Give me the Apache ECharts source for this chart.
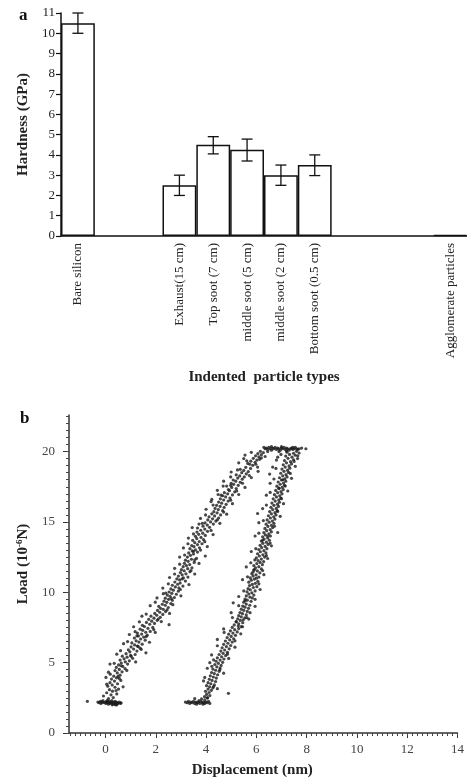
<!DOCTYPE html>
<html>
<head>
<meta charset="utf-8">
<script src="https://cdn.jsdelivr.net/npm/echarts@6/dist/echarts.min.js"></script>
<style>
html,body{margin:0;padding:0;background:#fff;}
#chart{width:467px;height:781px;}
</style>
</head>
<body>
<div id="chart"></div>
<script>
// ---------- Panel a data ----------
const categories = ['Bare silicon', ' ', '  ', 'Exhaust(15 cm)', 'Top soot (7 cm)', 'middle soot (5 cm)', 'middle soot (2 cm)', 'Bottom soot (0.5 cm)', '   ', '    ', '     ', 'Agglomerate particles'];
const hardness = [10.5, null, null, 2.5, 4.5, 4.25, 3.0, 3.5, null, null, null, 0.06];
const errLow  = [10.0, null, null, 2.0, 4.05, 3.7, 2.5, 2.98, null, null, null, null];
const errHigh = [11.0, null, null, 3.0, 4.9, 4.78, 3.5, 4.0, null, null, null, null];

// ---------- Panel b data ----------
const dispTicks = [0, 2, 4, 6, 8, 10, 12, 14];
const loadTicks = [0, 5, 10, 15, 20];

const loadBase = [[-0.72,2.25],[-0.3,2.2],[-0.25,2.15],[-0.2,2.25],[-0.18,2.1],[-0.15,2.2],[-0.12,2.2],[-0.1,2.3],[-0.05,2.15],[0,2.2],[0.02,2.1],[0.05,2.25],[0.07,2.3],[0.08,2.15],[0.1,2.2],[0.12,2.05],[0.15,2.25],[0.18,2.1],[0.2,2.2],[0.22,2.15],[0.25,2.3],[0.27,2.0],[0.28,2.1],[0.3,2.2],[0.33,2.05],[0.35,2.15],[0.38,2.25],[0.4,2.1],[0.4,2.0],[0.43,2.2],[0.45,2.0],[0.48,2.15],[0.5,2.1],[0.55,2.2],[0.6,2.1],[0.62,2.15]];

const loadBranch = [
[0.12,2.45],[0.31,2.52],[-0.08,2.63],[0.22,2.71],[0.45,2.78],[0.05,2.86],[0.28,2.97],[0.16,3.08],[0.52,3.12],[0.38,3.25],[0.09,3.33],[0.27,3.41],[0.48,3.5],[0.18,3.58],[0.36,3.69],[0.61,3.74],[0.24,3.83],[0.44,3.92],[0.33,4.04],[0.58,4.11],[0.19,4.18],[0.47,4.27],[0.66,4.35],[0.38,4.44],[0.55,4.52],[0.78,4.57],[0.43,4.66],[0.69,4.73],[0.52,4.84],[0.88,4.9],[0.63,4.97],[0.79,5.06],[0.95,5.13],[0.58,5.18],[0.74,5.27],[1.08,5.31],[0.86,5.39],[0.67,5.46],[1.0,5.52],[1.18,5.58],[0.82,5.64],[1.61,5.7],[0.97,5.77],[1.25,5.82],[0.91,5.91],[1.12,5.97],[1.38,6.03],[1.02,6.12],[1.27,6.18],[1.16,6.26],[1.46,6.31],[1.05,6.4],[1.33,6.46],[1.22,6.55],[1.58,6.6],[1.4,6.68],[1.15,6.75],[1.52,6.82],[1.31,6.9],[1.66,6.95],[1.44,7.03],[1.27,7.1],[1.6,7.16],[1.78,7.22],[1.48,7.3],[1.38,7.38],[1.69,7.44],[1.88,7.5],[1.55,7.57],[2.53,7.7],[1.47,7.65],[1.76,7.73],[1.95,7.79],[1.63,7.86],[1.84,7.95],[2.06,8.01],[1.72,8.08],[1.93,8.16],[2.18,8.22],[1.81,8.3],[2.04,8.37],[2.28,8.43],[1.96,8.5],[2.16,8.58],[2.39,8.63],[2.07,8.71],[2.3,8.79],[2.19,8.86],[2.5,8.92],[2.12,9.0],[2.38,9.08],[2.26,9.15],[2.6,9.2],[2.44,9.29],[2.33,9.37],[2.66,9.43],[2.51,9.5],[2.38,9.58],[2.74,9.63],[2.57,9.71],[2.46,9.8],[2.82,9.86],[2.64,9.93],[2.53,10.02],[2.9,10.08],[2.7,10.15],[2.6,10.24],[2.92,10.31],[2.78,10.38],[3.08,10.44],[2.66,10.5],[2.87,10.57],[2.97,10.66],[2.76,10.73],[3.18,10.8],[2.95,10.88],[2.84,10.95],[3.1,11.02],[3.28,11.08],[2.9,11.15],[3.05,11.24],[3.2,11.31],[2.98,11.4],[3.36,11.46],[3.13,11.53],[3.02,11.61],[3.27,11.68],[3.44,11.74],[3.09,11.82],[3.22,11.9],[3.35,11.97],[3.14,12.06],[3.53,12.12],[3.29,12.2],[3.18,12.28],[3.42,12.35],[3.62,12.41],[3.26,12.5],[3.97,12.58],[3.38,12.63],[3.5,12.72],[3.31,12.8],[3.66,12.86],[3.45,12.94],[3.58,13.02],[3.36,13.1],[3.74,13.16],[3.52,13.24],[3.43,13.32],[3.66,13.39],[3.84,13.45],[3.55,13.53],[3.73,13.61],[3.47,13.69],[3.9,13.75],[3.63,13.82],[3.8,13.9],[3.58,13.98],[3.97,14.04],[3.71,14.12],[3.87,14.2],[3.64,14.28],[4.06,14.33],[3.79,14.41],[3.95,14.49],[3.66,14.57],[4.14,14.62],[3.88,14.7],[4.05,14.78],[4.29,14.85],[3.96,14.93],[4.18,15.0],[4.39,15.06],[4.07,15.14],[4.26,15.22],[4.5,15.28],[4.12,15.36],[4.34,15.43],[4.58,15.5],[4.23,15.58],[4.44,15.65],[4.31,15.73],[4.66,15.8],[4.49,15.88],[4.36,15.96],[4.72,16.03],[4.56,16.1],[4.42,16.18],[4.8,16.25],[4.62,16.33],[4.5,16.41],[4.88,16.48],[4.23,16.6],[4.7,16.56],[4.57,16.64],[4.95,16.7],[4.78,16.78],[4.66,16.86],[5.05,16.92],[4.86,17.0],[4.73,17.08],[5.14,17.14],[4.93,17.22],[4.89,17.3],[5.2,17.37],[5.02,17.45],[4.82,17.55],[5.28,17.6],[5.1,17.67],[5.0,17.75],[5.36,17.82],[5.18,17.9],[5.08,17.98],[5.44,18.04],[5.26,18.12],[5.52,18.2],[5.34,18.27],[5.2,18.35],[5.6,18.42],[5.42,18.5],[6.07,18.6],[5.68,18.58],[5.5,18.66],[5.36,18.74],[5.77,18.8],[5.58,18.88],[5.74,19.1],[5.86,19.02],[5.66,19.16],[5.95,19.24],[5.78,19.32],[6.13,19.45],[6.02,19.4],[5.88,19.52],[6.1,19.62],[5.97,19.7],[6.2,19.78],[6.06,19.86],[6.28,19.93],[6.16,20.02]
];

const loadSpread = [[0.7,3.28],[0.02,3.95],[0.85,4.45],[0.18,4.9],[1.2,5.05],[0.45,5.6],[1.42,5.95],[0.72,6.35],[1.75,6.45],[0.95,7.0],[1.98,7.15],[1.12,7.55],[2.22,7.92],[1.45,8.3],[2.55,8.5],[1.78,9.05],[2.68,9.12],[2.05,9.6],[3.0,9.75],[2.28,10.3],[3.32,10.55],[2.55,11.05],[3.55,11.3],[2.75,11.7],[3.72,12.05],[2.95,12.5],[3.1,13.15],[4.05,13.25],[3.3,13.85],[4.28,14.1],[3.45,14.6],[4.55,14.9],[3.78,15.25],[4.82,15.55],[4.0,15.9],[5.05,16.3],[4.2,16.45],[5.3,16.95],[4.45,17.25],[5.55,17.45],[4.7,17.9],[5.8,18.15],[5.0,18.55],[6.05,18.9],[5.3,19.2],[6.35,19.65],[5.55,19.75],[3.5,12.9],[2.4,9.95],[1.25,6.9],[4.98,17.6],[5.62,19.35],[0.5,4.02],[3.85,14.9],[4.6,16.9]];

const loadFill = [[0.42,3.02],[0.05,3.47],[0.55,3.88],[0.12,4.32],[0.62,4.78],[0.35,4.95],[1.02,5.45],[0.6,5.85],[1.3,6.15],[0.88,6.5],[1.62,6.85],[1.18,7.2],[1.92,7.35],[1.35,7.9],[2.1,8.1],[1.62,8.45],[2.45,8.75],[1.98,9.3],[2.62,9.55],[2.3,9.9],[2.98,10.2],[2.5,10.6],[3.05,10.95],[2.75,11.3],[3.4,11.55],[2.95,12.0],[3.55,12.3],[3.15,12.65],[3.78,13.0],[3.28,13.45],[3.95,13.6],[3.5,14.15],[4.2,14.4],[3.72,14.85],[4.45,15.15],[3.98,15.5],[4.7,15.7],[4.28,16.2],[4.98,16.55],[4.48,16.95],[5.22,17.2],[4.68,17.55],[5.45,17.75],[4.98,18.2],[5.72,18.3],[5.25,18.7],[5.98,19.1],[5.5,19.5],[6.2,19.55],[5.8,19.95]];

const topCluster = [[6.3,20.3],[6.35,20.2],[6.4,20.25],[6.45,20.15],[6.5,20.3],[6.55,20.2],[6.6,20.1],[6.65,20.25],[6.7,20.2],[6.75,20.3],[6.8,20.15],[6.85,20.25],[6.9,20.2],[6.95,20.1],[7.0,20.25],[7.05,20.2],[7.1,20.3],[7.15,20.15],[7.2,20.25],[7.25,20.2],[7.3,20.1],[7.35,20.2],[7.4,20.25],[7.45,20.15],[7.5,20.2],[7.55,20.3],[7.6,20.2],[7.65,20.15],[7.7,20.2],[7.8,20.25],[7.97,20.2],[6.6,20.35],[6.9,20.0],[7.2,20.05],[7.45,20.3],[6.45,20.0],[7.0,20.35]];

const unloadBranch = [
[3.82,2.42],[4.06,2.5],[3.94,2.58],[4.15,2.66],[4.02,2.74],[4.89,2.82],[4.12,2.88],[3.98,2.96],[4.21,3.03],[4.08,3.12],[4.27,3.2],[4.14,3.28],[4.02,3.36],[4.33,3.42],[4.19,3.5],[4.08,3.58],[4.38,3.66],[4.24,3.74],[4.13,3.82],[4.41,3.9],[4.29,3.98],[4.17,4.06],[4.46,4.14],[4.33,4.22],[4.22,4.3],[4.52,4.38],[4.38,4.46],[4.27,4.54],[4.56,4.62],[4.23,4.74],[4.43,4.7],[4.6,4.8],[4.35,4.87],[4.49,4.95],[4.66,5.02],[4.4,5.1],[4.56,5.18],[4.71,5.26],[4.45,5.34],[4.62,5.42],[4.78,5.5],[4.52,5.58],[4.68,5.66],[4.85,5.74],[4.59,5.82],[4.74,5.9],[4.92,5.98],[4.64,6.06],[4.81,6.14],[4.98,6.22],[4.7,6.3],[4.87,6.38],[5.04,6.46],[4.77,6.54],[4.94,6.62],[5.1,6.7],[4.84,6.78],[5.0,6.86],[5.17,6.94],[4.9,7.02],[5.07,7.1],[5.24,7.18],[4.97,7.26],[5.14,7.34],[5.3,7.42],[5.04,7.5],[5.28,7.6],[5.4,7.56],[5.12,7.68],[5.3,7.76],[5.46,7.84],[5.2,7.92],[5.48,8.05],[5.36,8.0],[5.26,8.12],[5.54,8.18],[5.4,8.26],[5.3,8.34],[5.6,8.4],[5.45,8.48],[5.35,8.56],[5.64,8.64],[5.5,8.72],[5.4,8.8],[5.69,8.86],[5.55,8.94],[5.46,9.02],[5.74,9.08],[5.08,9.25],[5.6,9.16],[5.5,9.3],[5.79,9.36],[5.64,9.44],[5.55,9.52],[5.84,9.6],[5.74,9.66],[5.6,9.74],[5.9,9.8],[5.7,9.88],[5.82,9.96],[5.63,10.04],[5.95,10.1],[5.76,10.18],[5.67,10.26],[5.88,10.34],[6.02,10.4],[5.73,10.48],[5.84,10.56],[5.96,10.64],[5.7,10.72],[6.06,10.78],[5.8,10.86],[5.92,10.94],[5.76,11.02],[6.1,11.08],[5.87,11.16],[5.99,11.24],[5.82,11.32],[6.14,11.38],[5.87,11.45],[6.04,11.52],[5.92,11.6],[6.2,11.66],[5.97,11.74],[6.1,11.82],[5.9,11.9],[6.24,11.96],[6.02,12.04],[6.15,12.12],[5.94,12.3],[6.29,12.18],[6.07,12.26],[6.2,12.36],[6.0,12.44],[6.33,12.5],[6.12,12.58],[6.26,12.66],[6.05,12.74],[6.38,12.8],[6.16,12.88],[6.3,12.96],[6.1,13.04],[6.42,13.1],[6.21,13.18],[6.35,13.26],[6.15,13.34],[6.47,13.4],[6.26,13.48],[6.4,13.56],[6.2,13.64],[6.52,13.7],[6.31,13.78],[6.45,13.86],[6.25,13.94],[6.56,14.0],[6.36,14.08],[6.5,14.16],[6.3,14.24],[6.6,14.3],[6.41,14.38],[6.55,14.46],[6.34,14.54],[6.65,14.6],[6.46,14.68],[6.6,14.76],[6.39,14.84],[6.7,14.9],[6.51,14.98],[6.64,15.06],[6.43,15.14],[6.74,15.2],[6.56,15.28],[6.69,15.36],[6.48,15.44],[6.78,15.5],[6.6,15.58],[6.74,15.66],[6.53,15.74],[6.83,15.8],[6.65,15.88],[6.79,15.96],[6.58,16.04],[6.88,16.1],[6.7,16.18],[6.84,16.26],[6.62,16.34],[6.92,16.4],[6.75,16.48],[6.89,16.56],[6.67,16.64],[6.97,16.7],[6.8,16.78],[6.93,16.86],[6.72,16.94],[7.02,17.0],[6.85,17.08],[6.98,17.16],[6.77,17.24],[7.07,17.3],[6.9,17.38],[7.03,17.46],[6.82,17.54],[7.12,17.6],[6.95,17.68],[7.08,17.76],[6.87,17.84],[7.17,17.9],[7.0,17.98],[7.13,18.06],[6.92,18.14],[7.22,18.2],[7.05,18.28],[6.53,18.4],[7.18,18.36],[6.97,18.46],[7.28,18.52],[7.1,18.6],[7.24,18.68],[7.02,18.76],[7.33,18.82],[7.15,18.9],[7.3,18.98],[7.07,19.06],[7.4,19.12],[7.2,19.2],[7.36,19.28],[7.12,19.36],[7.48,19.42],[7.64,19.5],[7.26,19.52],[6.85,19.6],[7.42,19.6],[7.17,19.68],[7.55,19.74],[7.32,19.8],[7.48,19.88],[7.22,19.96],[7.6,20.02]
];

const unloadSpread = [[4.45,3.15],[3.9,3.7],[4.7,4.25],[4.05,4.6],[4.9,5.3],[4.22,5.55],[5.15,6.1],[4.45,6.65],[5.38,7.05],[4.7,7.4],[5.7,8.1],[5.0,8.55],[5.95,9.0],[5.3,9.7],[6.15,10.2],[5.45,10.9],[6.3,11.25],[5.6,11.8],[6.45,12.4],[5.8,12.9],[6.6,13.3],[5.95,14.0],[6.85,14.25],[6.1,14.95],[6.95,15.4],[6.25,15.95],[7.08,16.3],[6.4,16.9],[7.25,17.2],[6.55,17.75],[7.4,18.1],[6.65,18.9],[7.55,18.95],[6.8,19.4],[7.7,19.9],[5.2,7.9],[5.9,11.6],[6.25,13.7],[6.9,17.4],[4.3,5.2],[5.55,9.4],[6.05,15.6]];

const unloadFill = [[4.3,3.3],[3.95,3.95],[4.55,4.5],[4.15,5.0],[4.85,5.6],[4.45,6.2],[5.15,6.55],[4.72,7.15],[5.45,7.55],[5.05,8.2],[5.75,8.55],[5.3,9.05],[5.95,9.5],[5.5,10.1],[6.1,10.6],[5.65,11.1],[6.25,11.55],[5.78,12.1],[6.4,12.6],[5.98,13.1],[6.55,13.5],[6.1,14.2],[6.72,14.7],[6.28,15.1],[6.85,15.75],[6.4,16.2],[7.0,16.65],[6.55,17.1],[7.15,17.55],[6.7,18.05],[7.35,18.45],[6.78,18.8],[7.5,19.3],[6.98,19.8],[7.65,19.7],[5.62,8.2],[6.0,11.0],[6.45,14.0],[7.05,18.0]];

const unloadBase = [[3.18,2.2],[3.25,2.15],[3.3,2.25],[3.35,2.1],[3.4,2.2],[3.45,2.15],[3.5,2.25],[3.55,2.1],[3.6,2.2],[3.65,2.15],[3.7,2.2],[3.75,2.1],[3.8,2.25],[3.85,2.15],[3.9,2.2],[3.95,2.1],[4.0,2.2],[4.05,2.15],[4.1,2.25],[4.15,2.1],[3.55,2.45],[3.72,2.3],[3.95,2.35],[4.05,2.5],[3.62,2.05],[3.88,2.05]];

// ---------- build ----------
const SERIF = '"Liberation Serif", "DejaVu Serif", serif';
const errData = [];
errLow.forEach((lo, i) => { if (lo !== null) errData.push([i, lo, errHigh[i]]); });

const minorX = []; for (let v = -1.4; v <= 14.001; v += 0.2) minorX.push(Math.round(v * 10) / 10);
const minorY = []; for (let v = 0; v <= 22.6; v += 0.5) minorY.push(v);

const dot = {symbolSize: 3.2, itemStyle: {color: '#1a1a1a'}, xAxisIndex: 1, yAxisIndex: 1, type: 'scatter'};

const chart = echarts.init(document.getElementById('chart'), null, {renderer: 'canvas'});
const option = {
  animation: false,
  backgroundColor: '#fff',
  textStyle: {fontFamily: SERIF},
  graphic: [
    {type: 'text', left: 19, top: 7, style: {text: 'a', font: 'bold 17px ' + SERIF, fill: '#111'}},
    {type: 'text', left: 20, top: 410, style: {text: 'b', font: 'bold 17px ' + SERIF, fill: '#111'}}
  ],
  grid: [
    {left: 61, right: 0, top: 13, height: 223},
    {left: 69, right: 5, top: 415, bottom: 48}
  ],
  xAxis: [
    {
      gridIndex: 0, type: 'category', data: categories, boundaryGap: true,
      axisLine: {onZero: false, lineStyle: {color: '#111', width: 1.5}},
      axisTick: {show: false},
      axisLabel: {interval: 0, rotate: 90, margin: 7, fontSize: 13, color: '#222', fontFamily: SERIF},
      name: 'Indented  particle types', nameLocation: 'middle', nameGap: 134,
      nameTextStyle: {fontSize: 15, fontWeight: 'bold', color: '#222', fontFamily: SERIF}
    },
    {
      gridIndex: 1, type: 'value', min: -1.45, max: 14,
      axisLine: {onZero: false, lineStyle: {color: '#333', width: 1.5}},
      axisTick: {customValues: dispTicks, length: 5, lineStyle: {color: '#333'}},
      axisLabel: {customValues: dispTicks, fontSize: 13, color: '#444', margin: 10, fontFamily: SERIF},
      splitLine: {show: false},
      name: 'Displacement (nm)', nameLocation: 'middle', nameGap: 30,
      nameTextStyle: {fontSize: 15, fontWeight: 'bold', color: '#222', fontFamily: SERIF, padding: [0, 22, 0, 0]}
    },
    {
      gridIndex: 1, type: 'value', min: -1.45, max: 14, position: 'bottom',
      axisLine: {show: false, onZero: false},
      axisTick: {customValues: minorX, length: 3, lineStyle: {color: '#444'}},
      axisLabel: {show: false},
      splitLine: {show: false}
    }
  ],
  yAxis: [
    {
      gridIndex: 0, type: 'value', min: 0, max: 11, interval: 1,
      axisLine: {show: true, onZero: false, lineStyle: {color: '#111', width: 1.5}},
      axisTick: {show: true, length: 5, lineStyle: {color: '#111', width: 1.2}},
      axisLabel: {fontSize: 13, color: '#222', margin: 6, fontFamily: SERIF},
      splitLine: {show: false},
      name: 'Hardness (GPa)', nameLocation: 'middle', nameGap: 30,
      nameTextStyle: {fontSize: 15, fontWeight: 'bold', color: '#222', fontFamily: SERIF}
    },
    {
      gridIndex: 1, type: 'value', min: 0, max: 22.6,
      axisLine: {show: true, onZero: false, lineStyle: {color: '#333', width: 1.5}},
      axisTick: {show: true, customValues: loadTicks, length: 6, lineStyle: {color: '#333'}},
      axisLabel: {customValues: loadTicks, fontSize: 13, color: '#444', margin: 14, fontFamily: SERIF},
      splitLine: {show: false},
      name: 'Load (10{sup|-6}N)', nameLocation: 'middle', nameGap: 36,
      nameTextStyle: {fontSize: 15, fontWeight: 'bold', color: '#222', fontFamily: SERIF, padding: [0, 0, 0, 20],
        rich: {sup: {fontSize: 9, fontWeight: 'bold', verticalAlign: 'top', color: '#222', fontFamily: SERIF, padding: [0, 0, 8, 0]}}}
    },
    {
      gridIndex: 1, type: 'value', min: 0, max: 22.6, position: 'left',
      axisLine: {show: false, onZero: false},
      axisTick: {show: true, customValues: minorY, length: 3, lineStyle: {color: '#444'}},
      axisLabel: {show: false},
      splitLine: {show: false}
    }
  ],
  series: [
    {
      type: 'bar', xAxisIndex: 0, yAxisIndex: 0, data: hardness, barWidth: '100%', barGap: '-100%',
      itemStyle: {color: '#fff', borderColor: '#111', borderWidth: 1.5}
    },
    {
      type: 'custom', xAxisIndex: 0, yAxisIndex: 0, data: errData, z: 10,
      renderItem: function (params, api) {
        const x = api.value(0), lo = api.value(1), hi = api.value(2);
        const pHi = api.coord([x, hi]);
        const pLo = api.coord([x, lo]);
        const w = 5.5;
        const st = {stroke: '#111', lineWidth: 1.3};
        return {type: 'group', children: [
          {type: 'line', shape: {x1: pHi[0], y1: pHi[1], x2: pLo[0], y2: pLo[1]}, style: st},
          {type: 'line', shape: {x1: pHi[0] - w, y1: pHi[1], x2: pHi[0] + w, y2: pHi[1]}, style: st},
          {type: 'line', shape: {x1: pLo[0] - w, y1: pLo[1], x2: pLo[0] + w, y2: pLo[1]}, style: st}
        ]};
      }
    },
    Object.assign({data: loadBase}, dot),
    Object.assign({data: loadBranch}, dot),
    Object.assign({data: loadSpread}, dot),
    Object.assign({data: loadFill}, dot),
    Object.assign({data: topCluster}, dot),
    Object.assign({data: unloadBranch}, dot),
    Object.assign({data: unloadSpread}, dot),
    Object.assign({data: unloadFill}, dot),
    Object.assign({data: unloadBase}, dot)
  ]
};
chart.setOption(option);
</script>
</body>
</html>
